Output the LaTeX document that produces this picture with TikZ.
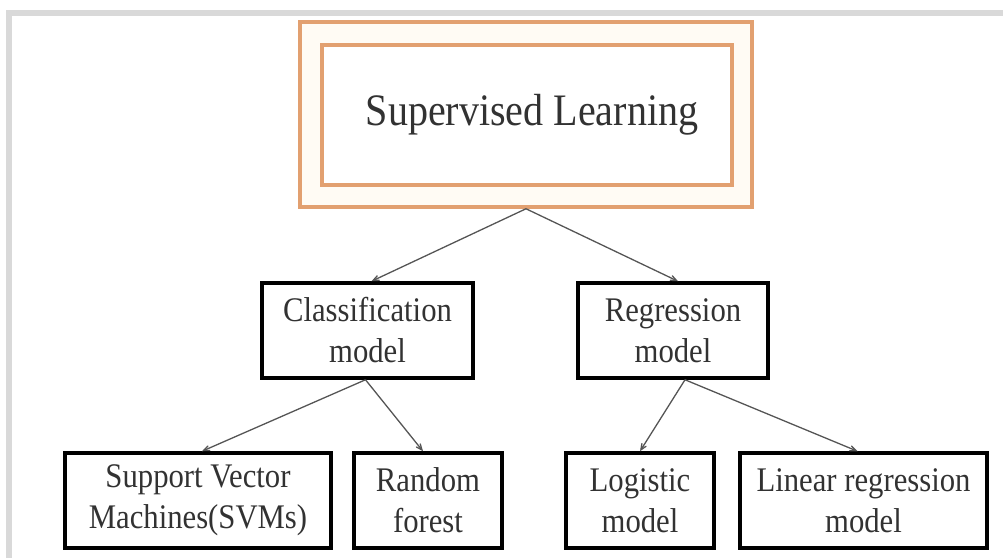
\documentclass[tikz,border=0pt]{standalone}
\usepackage{fontspec}
\setmainfont{Liberation Serif}[FakeStretch=0.89]
\usepackage{tikz}
\usetikzlibrary{arrows}
\usetikzlibrary{positioning}

\definecolor{sandline}{RGB}{226,160,112}
\definecolor{sandfill}{RGB}{255,251,244}
\definecolor{framegray}{RGB}{217,217,217}
\definecolor{inkgray}{RGB}{50,50,50}
\definecolor{arrowgray}{RGB}{85,85,85}

\begin{document}
\begin{tikzpicture}[x=1pt,y=-1pt,
    leaf/.style={draw=black,line width=3.5pt,rectangle,align=center,text=inkgray,
      minimum height=95pt,inner sep=0pt,font=\fontsize{34.5}{41}\selectfont}]

  \useasboundingbox (0,0) rectangle (1003,558);

  % page frame
  \fill [framegray] (6,10) rectangle (1003,16);
  \fill [framegray] (6,10) rectangle (12,558);

  \node [draw=sandline,fill=sandfill,line width=3.5pt,rectangle,minimum width=452pt,minimum height=185pt] (SLouter) at (526,114.5) {};
  \node [draw=sandline,fill=white,line width=3.5pt,rectangle,minimum width=410pt,minimum height=140pt,
    text=inkgray,font=\fontsize{45}{48}\selectfont] (SL) at (527,115) {\hspace*{10pt}Supervised Learning};

  \node [leaf,minimum width=211pt] (classif) at (367.5,330.5) {Classification\\model};
  \node [leaf,minimum width=190pt] (regr) at (673,330.5) {Regression\\model};

  \node [leaf,minimum width=266pt] (svm) at (198,500.5) {Support Vector\\Machines(SVMs)};
  \node [leaf,minimum width=148pt] (rforest) at (428,500.5) {Random\\forest};
  \node [leaf,minimum width=148pt] (logit) at (640,500.5) {Logistic\\model};
  \node [leaf,minimum width=247pt] (linreg) at (863.5,500.5) {Linear regression\\model};

  \path [line width=1.3pt,arrowgray,->,>=angle 45]
    (SLouter.south) edge ([xshift=4pt]classif.north)
    (SLouter.south) edge ([xshift=5pt]regr.north);

  \path [line width=1.3pt,arrowgray,->,>=angle 45]
    ([xshift=-2pt]classif.south) edge ([xshift=4pt]svm.north)
    ([xshift=-2pt]classif.south) edge ([xshift=-5pt]rforest.north)
    ([xshift=12pt]regr.south)    edge (logit.north)
    ([xshift=12pt]regr.south)    edge ([xshift=-6pt]linreg.north);

\end{tikzpicture}
\end{document}
